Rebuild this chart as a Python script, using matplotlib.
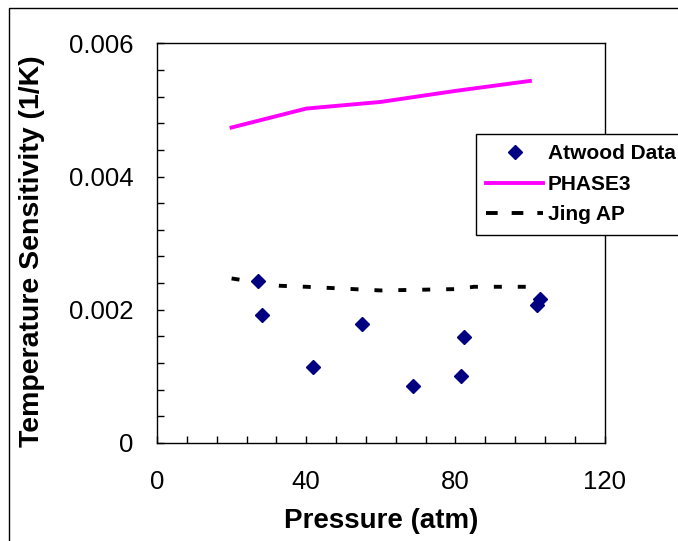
import matplotlib
matplotlib.use("Agg")
import matplotlib.pyplot as plt
from matplotlib.patches import Rectangle
from matplotlib.lines import Line2D
from matplotlib.ticker import MultipleLocator, FixedFormatter, FixedLocator
import numpy as np

plt.rcParams['font.family'] = ['Liberation Sans', 'DejaVu Sans']

# Atwood measurements (scatter)
atwood_p = [27.1, 28.2, 41.7, 55.0, 68.6, 81.4, 82.2, 102.0, 102.8]
atwood_s = [0.00243, 0.001925, 0.00114, 0.00179, 0.00086, 0.001005, 0.00159, 0.002065, 0.002155]

# PHASE3 model
phase3_p = [20, 40, 60, 80, 100]
phase3_s = [0.004736, 0.00502, 0.00512, 0.005285, 0.005435]

# Jing AP model
jing_p = [20, 33, 40, 60, 80, 85, 100]
jing_s = [0.00247, 0.00236, 0.002345, 0.00229, 0.00231, 0.002345, 0.002345]

navy = '#000080'
magenta = '#FF00FF'
lw = 2.8

fig = plt.figure(figsize=(6.78, 5.41), dpi=100)
ax = fig.add_axes([157 / 678, 1 - 443 / 541, 447.5 / 678, 399.7 / 541])

ax.plot(atwood_p, atwood_s, linestyle='none', marker='D', markersize=7.5,
        color=navy, zorder=3)
ax.plot(phase3_p, phase3_s, color=magenta, linewidth=lw)
ax.plot(jing_p, jing_s, color='black', linewidth=lw, linestyle=(0, (2.05, 4.1)))

ax.set_xlim(0, 120)
ax.set_ylim(0, 0.006)
ax.xaxis.set_major_locator(MultipleLocator(40))
ax.xaxis.set_minor_locator(MultipleLocator(8))
ax.yaxis.set_major_locator(FixedLocator([0, 0.002, 0.004, 0.006]))
ax.yaxis.set_major_formatter(FixedFormatter(['0', '0.002', '0.004', '0.006']))
ax.yaxis.set_minor_locator(MultipleLocator(0.0004))

ax.tick_params(which='both', direction='in', length=5, width=1,
               top=False, right=False, labelsize=18.5)
ax.tick_params(axis='x', which='both', pad=19.5)
ax.tick_params(axis='y', which='both', pad=17)
for s in ax.spines.values():
    s.set_linewidth(1)

ax.set_xlabel('Pressure (atm)', fontsize=20, fontweight='bold')
ax.set_ylabel('Temperature Sensitivity (1/K)', fontsize=20.5, fontweight='bold')
ax.xaxis.set_label_coords(0.5, -0.163)
ax.yaxis.set_label_coords(-0.25, 0.48)

# legend handles (Excel draws the legend dashes longer than in the plot)
handles = [
    Line2D([], [], linestyle='none', marker='D', markersize=7.5, color=navy),
    Line2D([], [], color=magenta, linewidth=lw),
    Line2D([], [], color='black', linewidth=lw, linestyle=(0, (3.0, 3.6))),
]
labels = ['Atwood Data', 'PHASE3', 'Jing AP']
leg = fig.legend(handles, labels, loc='upper left',
                 bbox_to_anchor=(476 / 678, 1 - 134 / 541),
                 borderaxespad=0, frameon=True, fancybox=False,
                 prop={'weight': 'bold', 'size': 15}, handlelength=2.7,
                 handletextpad=0.25, labelspacing=0.55, borderpad=0.5)
leg.get_frame().set_edgecolor('black')
leg.get_frame().set_linewidth(1)
leg.get_frame().set_alpha(1)

# chart area border
fig.patches.append(Rectangle((9 / 678, -0.1), 1.2, 1 - 8 / 541 + 0.1, transform=fig.transFigure,
                             fill=False, edgecolor='black', linewidth=1, clip_on=False))

fig.savefig('out.png', dpi=100)
